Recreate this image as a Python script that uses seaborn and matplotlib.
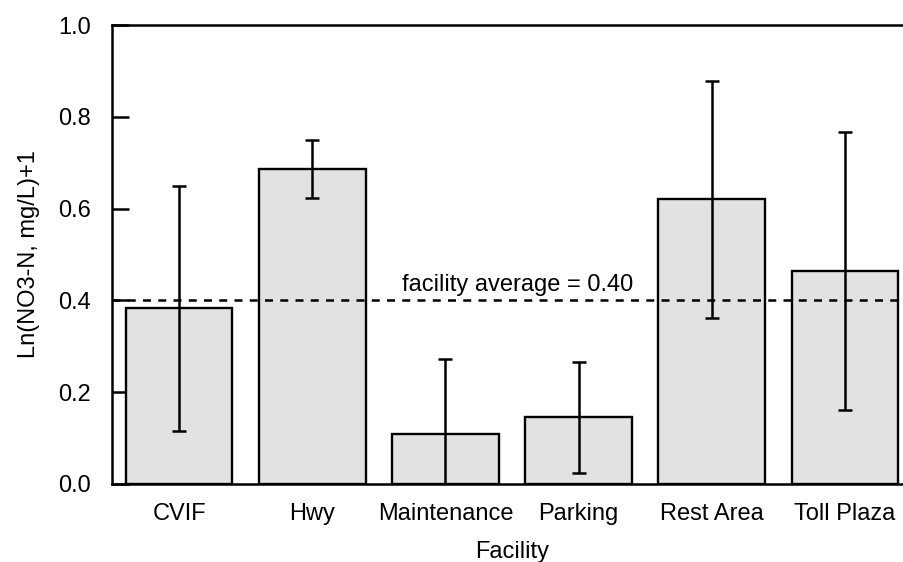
import pandas as pd
import matplotlib
matplotlib.use("Agg")
import matplotlib.pyplot as plt
import seaborn as sns

facilities = ["CVIF", "Hwy", "Maintenance", "Parking", "Rest Area", "Toll Plaza"]
means = [0.383, 0.686, 0.110, 0.145, 0.620, 0.464]
errors = [0.267, 0.063, 0.163, 0.120, 0.258, 0.303]
facility_avg = 0.40

df = pd.DataFrame({"Facility": facilities, "value": means})

sns.set_theme(style="white")
plt.rcParams['font.family'] = ['Liberation Sans', 'DejaVu Sans']
plt.rcParams['text.color'] = 'black'
plt.rcParams['axes.labelcolor'] = 'black'

fig = plt.figure(figsize=(9.04, 5.62), dpi=100)
ax = fig.add_axes([112.5 / 904, 78 / 562, 799 / 904, 459 / 562])

sns.barplot(data=df, x="Facility", y="value", color="#e1e2e1", saturation=1,
            edgecolor="black", linewidth=1.7, width=0.8, ax=ax, errorbar=None)
ax.errorbar(x=range(len(facilities)), y=means, yerr=errors, fmt="none",
            ecolor="black", elinewidth=1.8, capsize=4.7, capthick=1.8, zorder=3)

ax.axhline(facility_avg, color="black", lw=1.8, ls=(0, (3.2, 2.9)), zorder=4)
ax.text(2.54, facility_avg + 0.010, f"facility average = {facility_avg:.2f}",
        ha="center", va="bottom", fontsize=17)

ax.set_xlim(-0.5, 5.5)
ax.set_ylim(0, 1.0)
ax.set_yticks([0.0, 0.2, 0.4, 0.6, 0.8, 1.0])
ax.set_yticklabels([f"{v:.1f}" for v in [0.0, 0.2, 0.4, 0.6, 0.8, 1.0]])

for side in ["left", "top", "bottom"]:
    ax.spines[side].set_visible(True)
    ax.spines[side].set_color("black")
    ax.spines[side].set_linewidth(1.8)
ax.spines["right"].set_visible(False)

ax.tick_params(axis="y", direction="in", length=12, width=1.8, pad=15.8,
               labelsize=17, left=True, colors="black")
ax.tick_params(axis="x", length=0, pad=13.5, labelsize=17, colors="black")

ax.set_xlabel("Facility", fontsize=17, labelpad=12)
ax.set_ylabel("Ln(NO3-N, mg/L)+1", fontsize=17, labelpad=13)

fig.savefig("out.png", dpi=100)
